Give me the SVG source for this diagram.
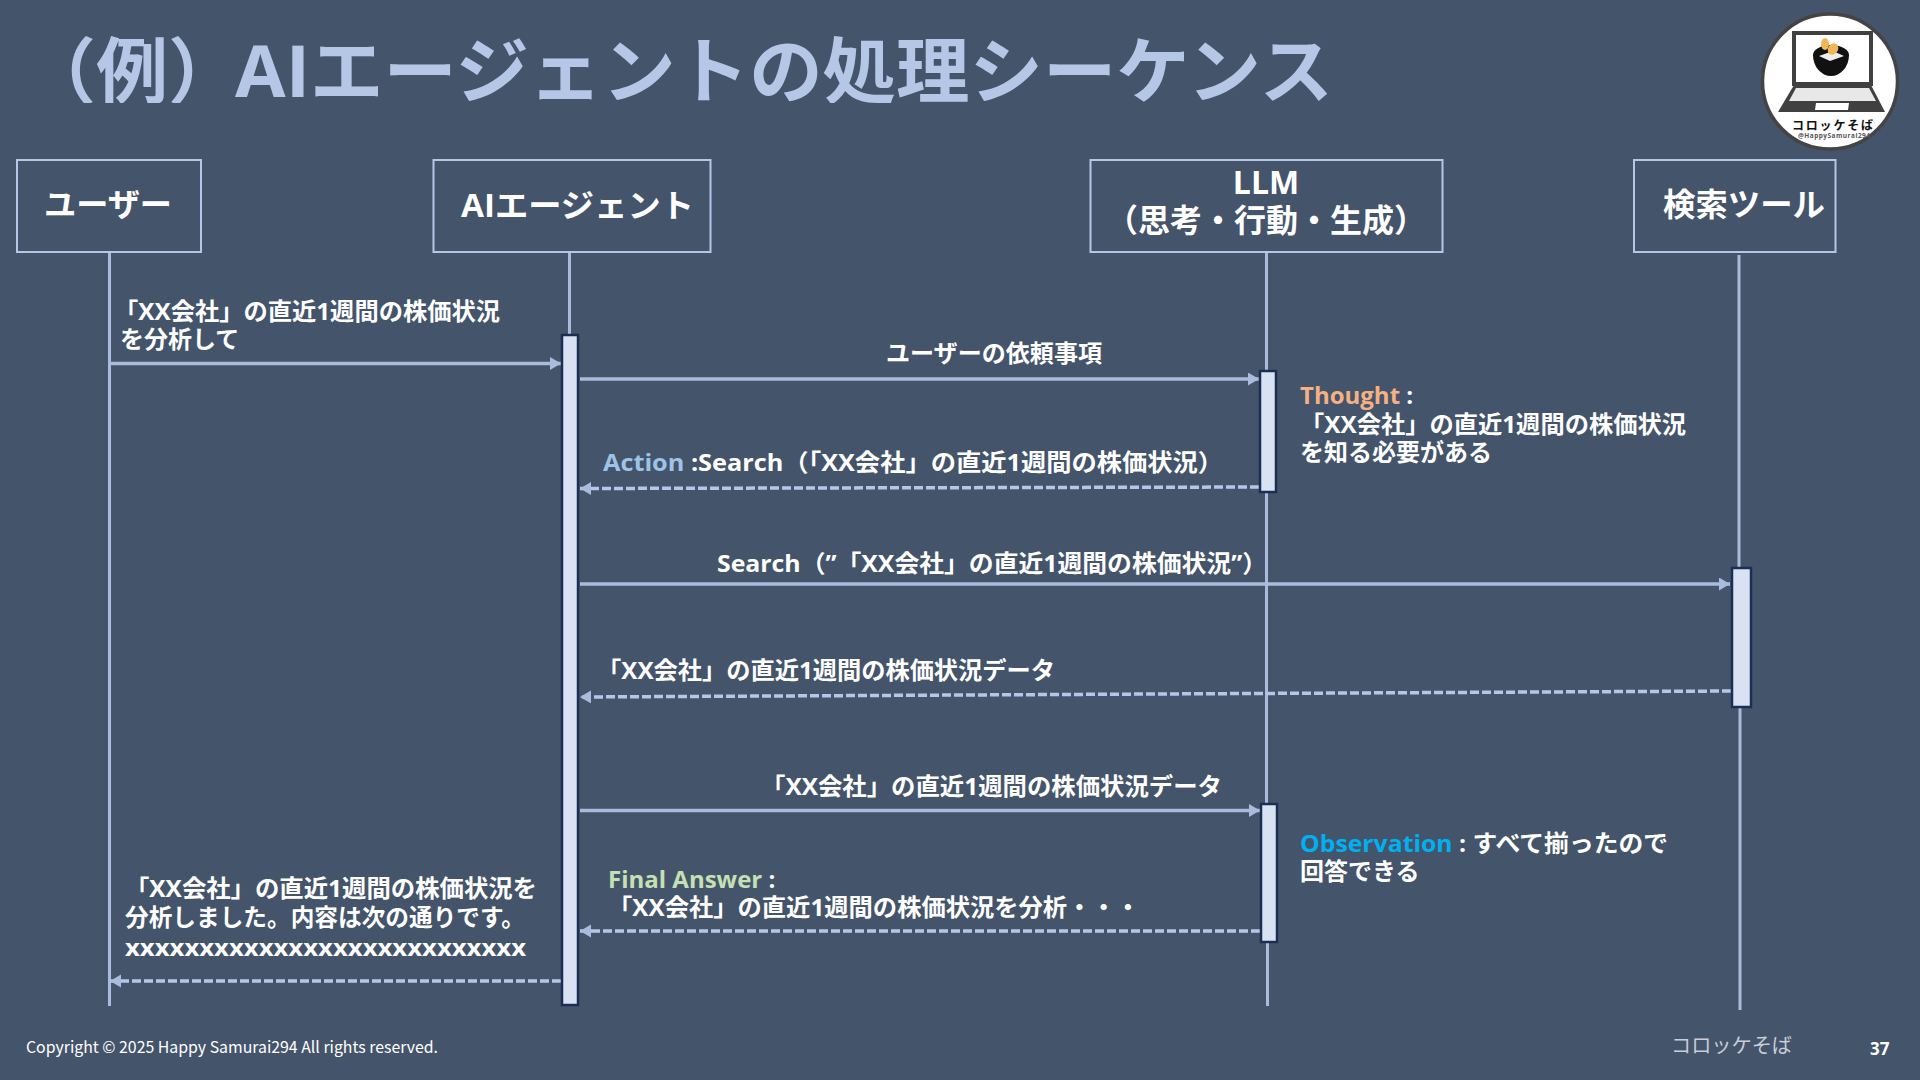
<svg xmlns="http://www.w3.org/2000/svg" width="1920" height="1080" viewBox="0 0 1920 1080">
<style>
text{font-family:"Open Sans","Noto Sans CJK JP",sans-serif;font-weight:700;fill:#fff}
.m{font-size:24px}
.n{font-size:32px}
.box{fill:none;stroke:#B4C7E7;stroke-width:2}
.life{stroke:#AABCDE;stroke-width:3;fill:none}
.act{fill:#D9E2F3;stroke:#1B2F55;stroke-width:2.500}
.s{stroke:#AABCDE;stroke-width:3.500;fill:none;marker-end:url(#a)}
.d{stroke:#B4C7E7;stroke-width:3.500;fill:none;stroke-dasharray:9 3;marker-end:url(#a)}
</style>
<defs>
<marker id="a" markerUnits="userSpaceOnUse" markerWidth="12" markerHeight="14" refX="11" refY="6.500" orient="auto"><path d="M0 0L11 6.500L0 13Z" fill="#AABCDE"/></marker>
<clipPath id="tc"><rect x="0" y="0" width="1400" height="103"/></clipPath>
</defs>
<rect width="1920" height="1080" fill="#44546A"/>
<g clip-path="url(#tc)">
<text x="24" y="97" style="font-size:72px;fill:#B4C7E7;font-family:'Noto Sans CJK JP',sans-serif" textLength="216" lengthAdjust="spacingAndGlyphs">（例）</text>
<text x="235" y="97" style="font-size:72px;fill:#B4C7E7" textLength="1098" lengthAdjust="spacingAndGlyphs">AIエージェントの処理シーケンス</text>
</g>
<g id="connectors">
<path class="life" d="M109.500 252V1006"/>
<path class="life" d="M569.500 252V336"/>
<path class="life" d="M1266.500 252V371M1266.500 492V804M1267.500 942V1006"/>
<path class="life" d="M1739 255V568M1740 707V1010"/>
<path class="s" d="M110 363.500H561"/>
<path class="s" d="M580 379H1259"/>
<path class="d" d="M1259 487L580 488.500"/>
<path class="s" d="M580 584H1730"/>
<path class="d" d="M1731 691L580 697"/>
<path class="s" d="M580 810.500H1260"/>
<path class="d" d="M1260 931L580 931"/>
<path class="d" d="M561 981H110"/>
</g>
<g id="user"><rect class="box" x="17" y="160" width="184" height="92"/><text class="n" x="44" y="216" textLength="128" lengthAdjust="spacingAndGlyphs">ユーザー</text></g>
<g id="agent"><rect class="box" x="433.500" y="160" width="277" height="92"/><text class="n" x="461" y="217" textLength="233" lengthAdjust="spacingAndGlyphs">AIエージェント</text></g>
<g id="llm"><rect class="box" x="1090.500" y="160" width="352" height="92"/><text class="n" x="1266" y="194" text-anchor="middle">LLM</text><text class="n" x="1266" y="232" text-anchor="middle" textLength="320" lengthAdjust="spacingAndGlyphs">（思考・行動・生成）</text></g>
<g id="search"><rect class="box" x="1634" y="160" width="201.500" height="92"/><text class="n" x="1663" y="216" textLength="162" lengthAdjust="spacingAndGlyphs">検索ツール</text></g>
<g id="act-agent"><rect class="act" x="562" y="335" width="16" height="670"/></g>
<g id="act-llm-1"><rect class="act" x="1260" y="371" width="16" height="121"/></g>
<g id="act-search"><rect class="act" x="1732" y="568" width="19" height="139"/></g>
<g id="act-llm-2"><rect class="act" x="1261" y="804" width="16" height="138"/></g>
<g id="labels">
<text class="m" x="114" y="320" textLength="386" lengthAdjust="spacingAndGlyphs">「XX会社」の直近1週間の株価状況</text>
<text class="m" x="120" y="348">を分析して</text>
<text class="m" x="886" y="362" textLength="216" lengthAdjust="spacingAndGlyphs">ユーザーの依頼事項</text>
<text class="m" x="603" y="471" textLength="620" lengthAdjust="spacingAndGlyphs"><tspan style="fill:#9DC3E6">Action </tspan>:Search（「XX会社」の直近1週間の株価状況）</text>
<text class="m" x="717" y="572" textLength="550" lengthAdjust="spacingAndGlyphs">Search（”「XX会社」の直近1週間の株価状況”）</text>
<text class="m" x="597" y="679" textLength="458" lengthAdjust="spacingAndGlyphs">「XX会社」の直近1週間の株価状況データ</text>
<text class="m" x="761" y="795" textLength="461" lengthAdjust="spacingAndGlyphs">「XX会社」の直近1週間の株価状況データ</text>
<text class="m" x="1300" y="404"><tspan style="fill:#F4B183">Thought</tspan> :</text>
<text class="m" x="1300" y="433" textLength="386" lengthAdjust="spacingAndGlyphs">「XX会社」の直近1週間の株価状況</text>
<text class="m" x="1300" y="461">を知る必要がある</text>
<text class="m" x="1300" y="852" textLength="368" lengthAdjust="spacingAndGlyphs"><tspan style="fill:#00B0F0">Observation</tspan> : すべて揃ったので</text>
<text class="m" x="1300" y="880">回答できる</text>
<text class="m" x="608" y="888"><tspan style="fill:#C5E0B4">Final Answer</tspan> :</text>
<text class="m" x="608" y="916" textLength="532" lengthAdjust="spacingAndGlyphs">「XX会社」の直近1週間の株価状況を分析・・・</text>
<text class="m" x="125" y="897" textLength="412" lengthAdjust="spacingAndGlyphs">「XX会社」の直近1週間の株価状況を</text>
<text class="m" x="125" y="926" textLength="400" lengthAdjust="spacingAndGlyphs">分析しました。内容は次の通りです。</text>
<text class="m" x="125" y="956" textLength="401" lengthAdjust="spacingAndGlyphs">xxxxxxxxxxxxxxxxxxxxxxxxxxx</text>
</g>
<g id="footer">
<text x="26" y="1053" style="font-size:16px;font-weight:400;font-family:'Noto Sans CJK JP',sans-serif" textLength="412" lengthAdjust="spacingAndGlyphs">Copyright © 2025 Happy Samurai294 All rights reserved.</text>
<text x="1671" y="1053" style="font-size:20px;font-weight:400;fill:#C8CDD6" textLength="121" lengthAdjust="spacingAndGlyphs">コロッケそば</text>
<text x="1870" y="1055" style="font-size:17px">37</text>
</g>
<g id="logo">
<circle cx="1830" cy="81.500" r="67.500" fill="#fff" stroke="#444" stroke-width="3.500"/>
<rect x="1794" y="33" width="77" height="51" fill="#fff" stroke="#404040" stroke-width="4"/>
<path d="M1794 85H1871L1885 112H1778Z" fill="#404040"/>
<path d="M1796 88H1869L1876 101H1789Z" fill="#E8E8E8"/>
<path d="M1816 103H1849L1848 110H1815Z" fill="#fff"/>
<path d="M1813 55a18 10 0 0 1 36 0a18 21 0 0 1-36 0Z" fill="#111"/>
<path d="M1819 56L1833 51L1844 56L1830 61Z" fill="#eee"/>
<ellipse cx="1825" cy="44" rx="4" ry="6" fill="#F2B65A"/><ellipse cx="1833" cy="49" rx="5" ry="6" transform="rotate(35 1833 49)" fill="#F2B65A"/>
<text x="1792" y="130" style="font-size:12px;fill:#111" textLength="81">コロッケそば</text>
<text x="1798" y="138" style="font-size:6.500px;fill:#555" textLength="72">@HappySamurai294</text>
</g>
</svg>
